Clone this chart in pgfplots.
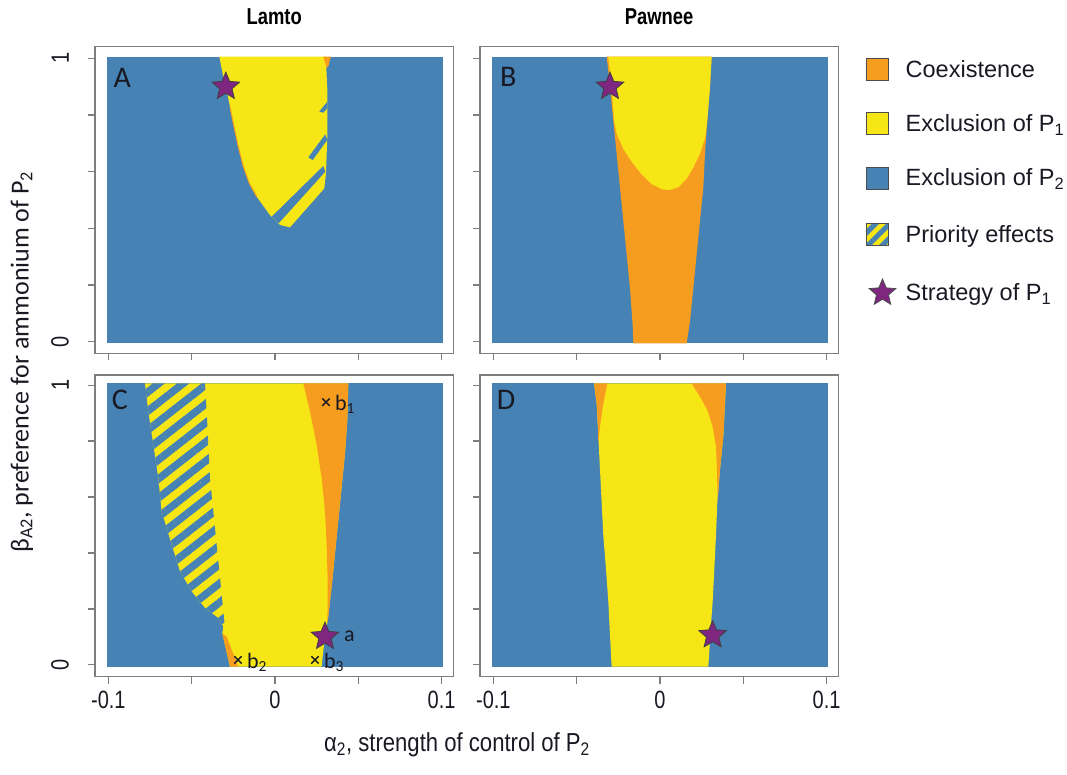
\documentclass[border=0pt]{standalone}
\usepackage{fontspec}
\setmainfont{Liberation Sans}
\newfontfamily\narrow[FakeStretch=0.8]{Liberation Sans}
\newfontfamily\narrowb[FakeStretch=0.85]{Liberation Sans}
\newfontfamily\carl{Carlito}
\usepackage{pgfplots}
\pgfplotsset{compat=1.18}
\usetikzlibrary{patterns.meta}
\definecolor{bluec}{RGB}{70,130,180}
\definecolor{yellowc}{RGB}{246,230,22}
\definecolor{orangec}{RGB}{246,156,30}
\definecolor{starc}{RGB}{126,38,128}
\definecolor{framec}{RGB}{125,125,125}
\definecolor{txtc}{RGB}{25,25,35}

\pgfdeclareplotmark{fstar}{%
 \pgfpathmoveto{\pgfpointpolar{90}{\pgfplotmarksize}}%
 \pgfpathlineto{\pgfpointpolar{126}{0.45\pgfplotmarksize}}%
 \pgfpathlineto{\pgfpointpolar{162}{\pgfplotmarksize}}%
 \pgfpathlineto{\pgfpointpolar{198}{0.45\pgfplotmarksize}}%
 \pgfpathlineto{\pgfpointpolar{234}{\pgfplotmarksize}}%
 \pgfpathlineto{\pgfpointpolar{270}{0.45\pgfplotmarksize}}%
 \pgfpathlineto{\pgfpointpolar{306}{\pgfplotmarksize}}%
 \pgfpathlineto{\pgfpointpolar{342}{0.45\pgfplotmarksize}}%
 \pgfpathlineto{\pgfpointpolar{18}{\pgfplotmarksize}}%
 \pgfpathlineto{\pgfpointpolar{54}{0.45\pgfplotmarksize}}%
 \pgfpathclose
 \pgfusepathqfillstroke}

\pgfplotsset{
 panel/.style={scale only axis, width=358.3pt, xmin=-0.108, xmax=0.107,
   axis line style={draw=framec, line width=1.2pt},
   tick align=outside, major tick length=7pt,
   tick style={draw=framec, line width=1.1pt},
   xtick={-0.1,-0.05,0,0.05,0.1}, ytick={0,0.2,0.4,0.6,0.8,1},
   xtick pos=bottom, ytick pos=left,
   xticklabels={}, yticklabels={},
   xticklabel style={font=\narrow\fontsize{25}{25}\selectfont, inner sep=0pt, anchor=north, text=txtc},
   yticklabel style={font=\narrow\fontsize{25}{25}\selectfont, inner sep=0pt, rotate=90, anchor=south, text=txtc},
   xticklabel shift=7pt, yticklabel shift=19pt,
   title style={font=\narrow\bfseries\fontsize{23}{23}\selectfont, at={(0.5,1)}, anchor=base, yshift=16.5pt},
 },
 toprow/.style={height=306.6pt, ymin=-0.041, ymax=1.041},
 botrow/.style={height=301.7pt, ymin=-0.042, ymax=1.036},
 bg/.style={fill=bluec, draw=none},
 yel/.style={fill=yellowc, draw=none},
 ora/.style={fill=orangec, draw=none},
 starp/.style={only marks, mark=fstar, mark size=14.5pt, mark options={fill=starc, draw=black!75, line width=0.8pt}},
 xmk/.style={only marks, mark=x, mark size=5.2pt, mark options={draw=txtc, line width=1.4pt}},
}
\newcommand{\lett}[2]{\node[font=\carl\fontsize{30}{30}\selectfont, text=txtc, anchor=north west, inner sep=0pt] at (axis cs:#1) {#2};}
\newcommand{\blab}[2]{\node[font=\carl\fontsize{22}{22}\selectfont, text=txtc, anchor=west, inner sep=0pt] at (axis cs:#1) {#2};}

\begin{document}
\begin{tikzpicture}[x=1pt,y=1pt]
\useasboundingbox (0pt,0pt) rectangle (1067pt,774pt);

% ---------------- A: Lamto, top
\begin{axis}[panel, toprow, at={(95pt,420.7pt)}, title={Lamto}, yticklabels={0,{},{},{},{},1}]
\addplot[bg] coordinates {(-0.101,-0.006) (0.101,-0.006) (0.101,1.006) (-0.101,1.006)} -- cycle;
\addplot[yel] coordinates {(-0.0334,1.006) (0.0305,1.006) (0.0314,0.888) (0.0314,0.7235) (0.0306,0.594) (0.0296,0.541) (0.009,0.4035) (0.003,0.412) (-0.003,0.447) (-0.0066,0.476) (-0.011,0.512) (-0.0154,0.559) (-0.019,0.618) (-0.022,0.688) (-0.0246,0.759) (-0.027,0.829) (-0.029,0.888) (-0.0314,0.947)} -- cycle;
\addplot[bg] coordinates {(0.0266,0.812) (0.0314,0.847) (0.0314,0.8235) (0.029,0.808)} -- cycle;
\addplot[bg] coordinates {(0.020,0.6506) (0.0302,0.7318) (0.0314,0.712) (0.0226,0.641)} -- cycle;
\addplot[bg] coordinates {(-0.002,0.441) (0.029,0.620) (0.0302,0.600) (0.0022,0.4176)} -- cycle;
\addplot[ora] coordinates {(0.029,1.006) (0.0335,1.006) (0.0322,0.975) (0.031,0.965)} -- cycle;
\addplot[orangec, line width=1pt] coordinates {(-0.027,0.829) (-0.0246,0.759) (-0.022,0.688) (-0.019,0.618) (-0.0154,0.559) (-0.011,0.512)};
\addplot[starp] coordinates {(-0.0295,0.9)};
\lett{-0.097,0.966}{A}
\end{axis}

% ---------------- B: Pawnee, top
\begin{axis}[panel, toprow, at={(480pt,420.7pt)}, title={Pawnee},
  legend style={at={(axis description cs:1.0717,0.962)}, anchor=north west, draw=none, fill=none,
    inner sep=0pt, outer sep=0pt, row sep=31.3pt, column sep=0pt,
    font=\fontsize{23.5}{24}\selectfont,
    nodes={inner sep=0pt, text height=19pt, text depth=3pt, text=txtc}},
  legend cell align=left]
\addplot[bg, forget plot] coordinates {(-0.101,-0.006) (0.101,-0.006) (0.101,1.006) (-0.101,1.006)} -- cycle;
\addplot[ora, forget plot] coordinates {(-0.032,1.006) (-0.030,0.899) (-0.028,0.781) (-0.026,0.663) (-0.024,0.544) (-0.022,0.426) (-0.020,0.308) (-0.018,0.189) (-0.0164,0.059) (-0.016,-0.006) (0.016,-0.006) (0.018,0.071) (0.020,0.189) (0.022,0.308) (0.024,0.426) (0.026,0.544) (0.027,0.663) (0.0284,0.781) (0.030,0.899) (0.031,1.006)} -- cycle;
\addplot[yel, forget plot] coordinates {(-0.031,1.006) (-0.029,0.899) (-0.0276,0.781) (-0.026,0.734) (-0.022,0.680) (-0.017,0.635) (-0.011,0.590) (-0.005,0.556) (0.001,0.538) (0.006,0.535) (0.011,0.545) (0.016,0.575) (0.020,0.615) (0.024,0.663) (0.0272,0.722) (0.0284,0.781) (0.030,0.899) (0.031,1.006)} -- cycle;
\addplot[starp, forget plot] coordinates {(-0.030,0.9)};
\lett{-0.096,0.97}{B}
\addlegendimage{legend image code/.code={\draw[fill=orangec, draw=black!70, line width=0.8pt] (0pt,-11pt) rectangle (22pt,11pt); \path (39pt,0pt);}}
\addlegendentry{Coexistence}
\addlegendimage{legend image code/.code={\draw[fill=yellowc, draw=black!70, line width=0.8pt] (0pt,-11pt) rectangle (22pt,11pt); \path (39pt,0pt);}}
\addlegendentry{Exclusion of P\textsubscript{1}}
\addlegendimage{legend image code/.code={\draw[fill=bluec, draw=black!70, line width=0.8pt] (0pt,-11pt) rectangle (22pt,11pt); \path (39pt,0pt);}}
\addlegendentry{Exclusion of P\textsubscript{2}}
\addlegendimage{legend image code/.code={\fill[yellowc] (0pt,-11pt) rectangle (22pt,11pt); \fill[pattern={Lines[angle=45,distance=10pt,line width=5pt]}, pattern color=bluec] (0pt,-11pt) rectangle (22pt,11pt); \draw[draw=black!70, line width=0.8pt] (0pt,-11pt) rectangle (22pt,11pt); \path (39pt,0pt);}}
\addlegendentry{Priority effects}
\addlegendimage{legend image code/.code={\path (0pt,-11pt) (39pt,11pt); \path[fill=starc, draw=black!70, line width=0.8pt] plot[mark=fstar, mark size=14pt, only marks] coordinates {(16pt,0pt)};}}
\addlegendentry{Strategy of P\textsubscript{1}}
\end{axis}

% ---------------- C: Lamto, bottom
\begin{axis}[panel, botrow, at={(95pt,97.3pt)}, xticklabels={-0.1,{},0,{},0.1}, yticklabels={0,{},{},{},{},1}]
\addplot[bg] coordinates {(-0.101,-0.006) (0.101,-0.006) (0.101,1.006) (-0.101,1.006)} -- cycle;
\addplot[yel] coordinates {(-0.078,1.006) (-0.076,0.906) (-0.073,0.787) (-0.070,0.668) (-0.068,0.549) (-0.062,0.430) (-0.057,0.335) (-0.050,0.263) (-0.042,0.204) (-0.034,0.168) (-0.031,0.137) (-0.0316,0.113) (-0.027,-0.006) (0.028,-0.006) (0.0286,0.030) (0.030,0.101) (0.032,0.173) (0.034,0.280) (0.036,0.399) (0.038,0.518) (0.040,0.637) (0.042,0.756) (0.0434,0.875) (0.044,1.006)} -- cycle;
\addplot[draw=none, pattern={Lines[angle=38,distance=15pt,line width=7.5pt]}, pattern color=bluec] coordinates {(-0.078,1.006) (-0.076,0.906) (-0.073,0.787) (-0.070,0.668) (-0.068,0.549) (-0.062,0.430) (-0.057,0.335) (-0.050,0.263) (-0.042,0.204) (-0.034,0.168) (-0.031,0.137) (-0.030,0.132) (-0.031,0.192) (-0.032,0.251) (-0.033,0.311) (-0.035,0.430) (-0.037,0.549) (-0.039,0.668) (-0.040,0.787) (-0.041,0.906) (-0.042,1.006)} -- cycle;
\addplot[ora] coordinates {(0.017,1.006) (0.021,0.906) (0.025,0.787) (0.028,0.668) (0.030,0.549) (0.031,0.430) (0.0316,0.311) (0.0316,0.220) (0.0314,0.149) (0.032,0.173) (0.034,0.280) (0.036,0.399) (0.038,0.518) (0.040,0.637) (0.042,0.756) (0.0434,0.875) (0.044,1.006)} -- cycle;
\addplot[ora] coordinates {(-0.0316,0.113) (-0.027,-0.006) (-0.022,-0.006) (-0.029,0.101)} -- cycle;
\addplot[starp] coordinates {(0.030,0.101)};
\addplot[xmk] coordinates {(0.0306,0.939) (-0.0222,0.018) (0.024,0.018)};
\lett{-0.098,0.982}{C}
\blab{0.0306,0.93}{\hspace{9pt}b\textsubscript{1}}
\blab{-0.0222,0.01}{\hspace{9pt}b\textsubscript{2}}
\blab{0.024,0.01}{\hspace{9pt}b\textsubscript{3}}
\blab{0.030,0.101}{\hspace{19pt}a}
\end{axis}

% ---------------- D: Pawnee, bottom
\begin{axis}[panel, botrow, at={(480pt,97.3pt)}, xticklabels={-0.1,{},0,{},0.1}]
\addplot[bg] coordinates {(-0.101,-0.006) (0.101,-0.006) (0.101,1.006) (-0.101,1.006)} -- cycle;
\addplot[yel] coordinates {(-0.0396,1.006) (-0.038,0.935) (-0.037,0.817) (-0.036,0.698) (-0.035,0.580) (-0.034,0.462) (-0.0324,0.343) (-0.031,0.225) (-0.030,0.107) (-0.029,-0.006) (0.029,-0.006) (0.0296,0.047) (0.0304,0.130) (0.0316,0.225) (0.0326,0.343) (0.0336,0.462) (0.0344,0.580) (0.036,0.698) (0.038,0.817) (0.039,0.935) (0.0396,1.006)} -- cycle;
\addplot[ora] coordinates {(-0.0396,1.006) (-0.0316,1.006) (-0.034,0.935) (-0.036,0.852) (-0.037,0.79) (-0.0372,0.85) (-0.038,0.935)} -- cycle;
\addplot[ora] coordinates {(0.019,1.006) (0.0396,1.006) (0.039,0.935) (0.038,0.817) (0.036,0.698) (0.0346,0.592) (0.0342,0.698) (0.0336,0.781) (0.0316,0.852) (0.0284,0.911) (0.024,0.959)} -- cycle;
\addplot[starp] coordinates {(0.0316,0.1065)};
\lett{-0.098,0.982}{D}
\end{axis}

\node[rotate=90, font=\carl\fontsize{26}{26}\selectfont, text=txtc] at (22pt,412pt) {β\textsubscript{A2}, preference for ammonium of P\textsubscript{2}};
\node[font=\narrowb\fontsize{26}{26}\selectfont, text=txtc] at (457pt,29pt) {α\textsubscript{2}, strength of control of P\textsubscript{2}};
\end{tikzpicture}
\end{document}
